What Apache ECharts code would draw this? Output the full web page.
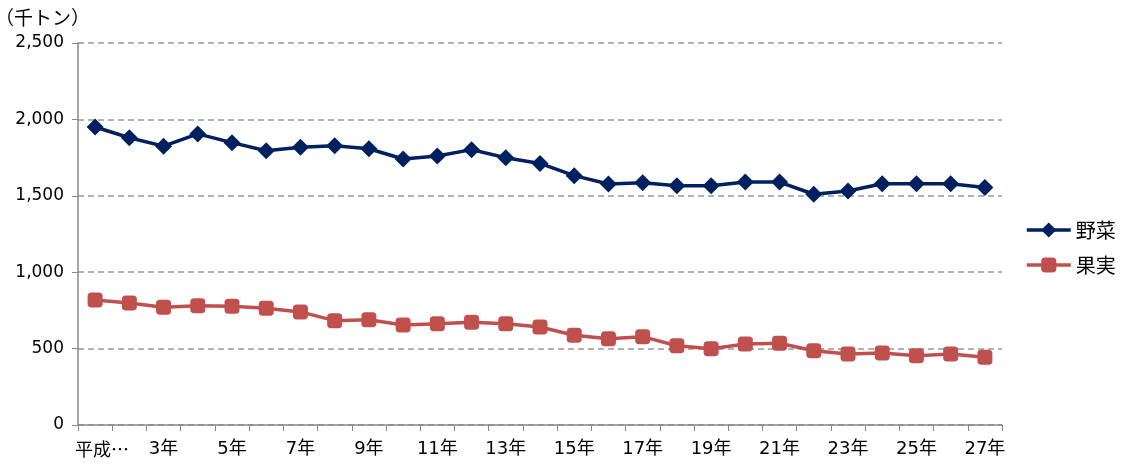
<!DOCTYPE html>
<html>
<head>
<meta charset="utf-8">
<script src="https://cdn.jsdelivr.net/npm/echarts@6/dist/echarts.min.js"></script>
<style>
  html, body { margin: 0; padding: 0; background: #fff; }
  #chart { width: 1121px; height: 464px; }
</style>
</head>
<body>
<div id="chart"></div>
<script>
// 平成元年〜27年
var years = ['平成元年', '2年', '3年', '4年', '5年', '6年', '7年', '8年', '9年', '10年',
  '11年', '12年', '13年', '14年', '15年', '16年', '17年', '18年', '19年', '20年',
  '21年', '22年', '23年', '24年', '25年', '26年', '27年'];

// 野菜 (千トン)
var vegetables = [1950, 1880, 1825, 1905, 1848, 1795, 1817, 1828, 1808, 1741,
  1760, 1802, 1749, 1712, 1632, 1577, 1586, 1566, 1566, 1590,
  1590, 1510, 1531, 1579, 1579, 1579, 1555];

// 果実 (千トン)
var fruits = [818, 798, 770, 781, 777, 764, 740, 683, 689, 654,
  663, 672, 663, 641, 587, 565, 578, 519, 499, 530,
  535, 486, 465, 471, 453, 465, 443];

var jp = '"Noto Sans CJK JP", sans-serif';
var num = '"DejaVu Sans", "Noto Sans CJK JP", sans-serif';

var myChart = echarts.init(document.getElementById('chart'));
var option = {
  animation: false,
  textStyle: { fontFamily: jp },
  title: {
    text: '（千トン）',
    left: -10,
    top: 3,
    textStyle: { fontSize: 19, fontWeight: 'normal', color: '#000', fontFamily: jp }
  },
  grid: { left: 78, right: 119, top: 43, bottom: 39, containLabel: false },
  legend: {
    orient: 'vertical',
    left: 1020,
    top: 215,
    itemWidth: 44,
    itemHeight: 19,
    itemGap: 15,
    lineStyle: { width: 3.5 },
    textStyle: { fontSize: 20, color: '#000', fontFamily: jp },
    data: ['野菜', '果実']
  },
  xAxis: {
    type: 'category',
    data: years,
    boundaryGap: true,
    axisLine: { lineStyle: { color: '#888', width: 1.5 } },
    axisTick: { show: true, length: 6, interval: 0, lineStyle: { color: '#888' } },
    axisLabel: {
      interval: 1,
      margin: 15,
      fontSize: 18,
      color: '#000',
      fontFamily: num,
      formatter: function (v) { return v === '平成元年' ? '{first|平成…}' : v; },
      rich: { first: { fontSize: 18, padding: [0, 0, 0, 14], fontFamily: jp, color: '#000' } }
    }
  },
  yAxis: {
    type: 'value',
    min: 0,
    max: 2500,
    interval: 500,
    axisLine: { show: true, lineStyle: { color: '#888', width: 1.5 } },
    axisTick: { show: true, length: 6, lineStyle: { color: '#888' } },
    axisLabel: {
      fontSize: 17,
      color: '#000',
      margin: 14,
      fontFamily: num,
      formatter: function (v) { return v.toLocaleString('en-US'); }
    },
    splitLine: { lineStyle: { color: '#999', type: [6, 4], width: 1.5 } }
  },
  series: [
    {
      name: '野菜',
      type: 'line',
      data: vegetables,
      symbol: 'diamond',
      symbolSize: 17,
      lineStyle: { color: '#002060', width: 3.5 },
      itemStyle: { color: '#002060' }
    },
    {
      name: '果実',
      type: 'line',
      data: fruits,
      symbol: 'roundRect',
      symbolSize: 15,
      lineStyle: { color: '#C0504D', width: 3.5 },
      itemStyle: { color: '#C0504D' }
    }
  ]
};
myChart.setOption(option);
</script>
</body>
</html>
